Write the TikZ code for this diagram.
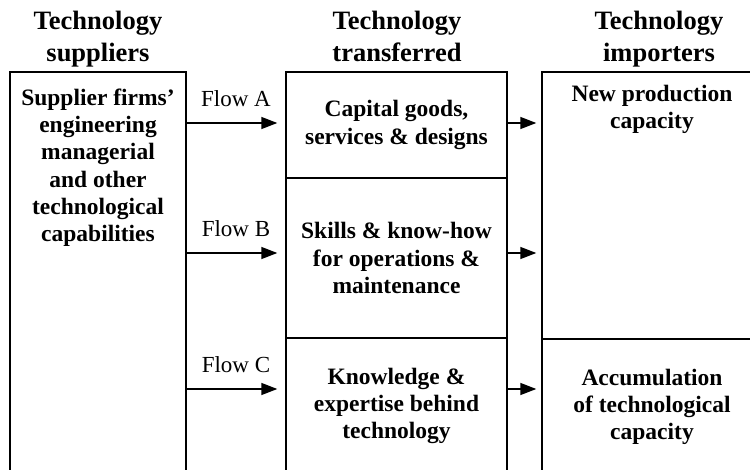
\documentclass[tikz,border=0pt]{standalone}
\usepackage{fontspec}
\setmainfont{Liberation Serif}
\usetikzlibrary{arrows.meta,positioning}
\begin{document}
\begin{tikzpicture}[x=1pt,y=-1pt,
 cell/.style={draw,line width=1.4pt,inner sep=0pt},
 head/.style={align=center,anchor=north,font=\fontsize{26.5}{32}\selectfont\bfseries},
 body/.style={align=center,font=\fontsize{23.5}{27.3}\selectfont\bfseries},
 flowlbl/.style={font=\fontsize{23}{27}\selectfont},
 flow/.style={line width=1.4pt,-{Triangle[length=16pt,width=12pt]}}]
 \useasboundingbox (0,0) rectangle (750,470);
 \clip (0,0) rectangle (750,470);
 \node[head] (hsup) at (98,8) {Technology\\suppliers};
 \node[head] (htra) at (397,8) {Technology\\transferred};
 \node[head] (himp) at (659,8) {Technology\\importers};
 \node[cell,minimum width=176pt,minimum height=410pt] (sup) at (98,277) {};
 \node[body,below=14pt of sup.north] (suptxt) {Supplier firms'\\engineering\\managerial\\and other\\technological\\capabilities};
 \node[cell,body,minimum width=221pt,minimum height=106pt] (cap) at (396.5,125) {Capital goods,\\services \& designs};
 \node[cell,body,minimum width=221pt,minimum height=160pt] (skill) at (396.5,258) {Skills \& know-how\\for operations \&\\maintenance};
 \node[cell,body,minimum width=221pt,minimum height=136pt] (know) at (396.5,406) {Knowledge \&\\expertise behind\\technology};
 \node[cell,minimum width=220pt,minimum height=267pt] (new) at (652,205.5) {};
 \node[body,below=10pt of new.north] (newtxt) {New production\\capacity};
 \node[cell,body,minimum width=220pt,minimum height=136pt] (acc) at (652,407) {Accumulation\\of technological\\capacity};
 \coordinate (ya) at (0,123);
 \coordinate (yb) at (0,253);
 \coordinate (yc) at (0,389);
 \draw[flow,shorten >=8pt] (sup.east |- ya) -- node[flowlbl,above=12pt] (fa) {Flow A} (cap.west |- ya);
 \draw[flow,shorten >=8pt] (sup.east |- yb) -- node[flowlbl,above=12pt] (fb) {Flow B} (skill.west |- yb);
 \draw[flow,shorten >=8pt] (sup.east |- yc) -- node[flowlbl,above=12pt] (fc) {Flow C} (know.west |- yc);
 \draw[flow,shorten >=5pt] (cap.east |- ya) -- (new.west |- ya);
 \draw[flow,shorten >=5pt] (skill.east |- yb) -- (new.west |- yb);
 \draw[flow,shorten >=5pt] (know.east |- yc) -- (acc.west |- yc);
\end{tikzpicture}
\end{document}
